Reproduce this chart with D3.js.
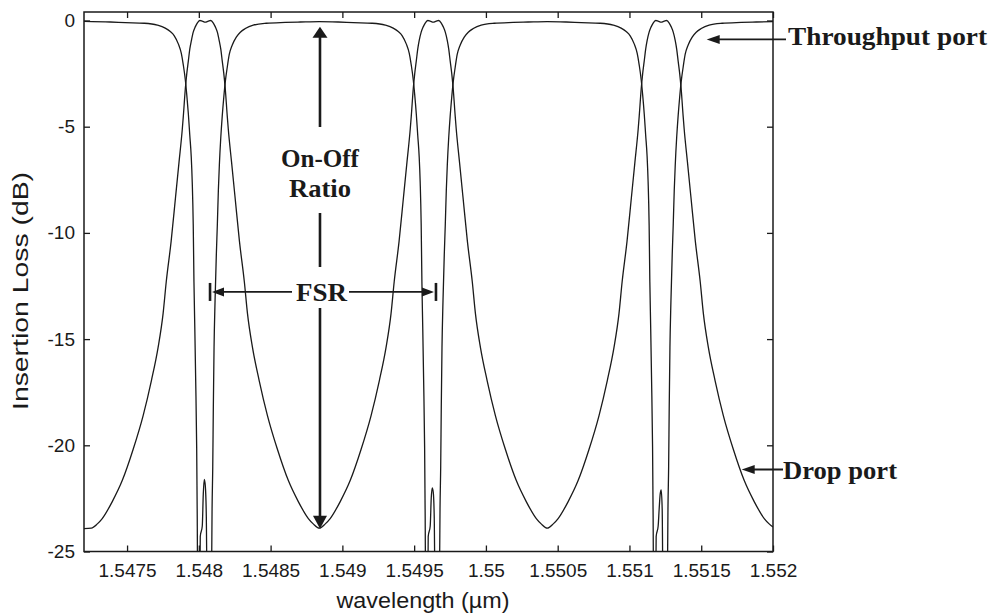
<!DOCTYPE html>
<html>
<head>
<meta charset="utf-8">
<script src="https://cdn.jsdelivr.net/npm/d3@7"></script>
<style>
  html, body { margin: 0; padding: 0; background: #ffffff; }
  svg { display: block; }
</style>
</head>
<body>
<svg id="chart" width="995" height="616"></svg>
<script>
// ---- Axis ticks -------------------------------------------------------
const xTickValues = [1.5475, 1.548, 1.5485, 1.549, 1.5495, 1.55, 1.5505, 1.551, 1.5515, 1.552];
const xTickLabels = ["1.5475", "1.548", "1.5485", "1.549", "1.5495", "1.55", "1.5505", "1.551", "1.5515", "1.552"];
const yTickValues = [0, -5, -10, -15, -20, -25];
const yTickLabels = ["0", "-5", "-10", "-15", "-20", "-25"];

// ---- Drop port transmission: [wavelength (um), insertion loss (dB)] ---
const dropPort = [
  [1.5472, -23.92], [1.547251, -23.9], [1.547293, -23.7], [1.547327, -23.45], [1.547397, -22.65],
  [1.547467, -21.65], [1.547542, -20.2], [1.547612, -18.6], [1.54767, -16.94], [1.547716, -15.4],
  [1.547751, -13.8], [1.547773, -12.3], [1.547807, -10.4], [1.547838, -8.3], [1.547862, -6.67],
  [1.547885, -5.1], [1.547892, -4.5], [1.547906, -3.2], [1.547916, -2.5], [1.547927, -1.9],
  [1.547937, -1.35], [1.547948, -0.95], [1.547961, -0.55], [1.547975, -0.3], [1.547989, -0.12],
  [1.548007, 0], [1.548024, -0.03], [1.548045, -0.08], [1.548066, -0.03], [1.548083, 0],
  [1.548101, -0.12], [1.548115, -0.3], [1.548129, -0.55], [1.548142, -0.95], [1.548153, -1.35],
  [1.548163, -1.9], [1.548174, -2.5], [1.548184, -3.2], [1.548198, -4.5], [1.548205, -5.1],
  [1.548228, -6.67], [1.548252, -8.3], [1.548283, -10.4], [1.548317, -12.3], [1.548339, -13.8],
  [1.548374, -15.4], [1.54842, -16.94], [1.548478, -18.6], [1.548548, -20.2], [1.548623, -21.65],
  [1.548693, -22.65], [1.548763, -23.45], [1.548797, -23.7], [1.548839, -23.9],
  [1.548881, -23.7], [1.548915, -23.45], [1.548985, -22.65], [1.549055, -21.65], [1.54913, -20.2],
  [1.5492, -18.6], [1.549258, -16.94], [1.549304, -15.4], [1.549339, -13.8], [1.549361, -12.3],
  [1.549395, -10.4], [1.549426, -8.3], [1.54945, -6.67], [1.549473, -5.1], [1.54948, -4.5],
  [1.549494, -3.2], [1.549504, -2.5], [1.549515, -1.9], [1.549525, -1.35], [1.549535, -0.95],
  [1.549549, -0.55], [1.549563, -0.3], [1.549577, -0.12], [1.549595, 0], [1.549612, -0.03],
  [1.549633, -0.08], [1.549654, -0.03], [1.549671, 0], [1.549689, -0.12], [1.549703, -0.3],
  [1.549717, -0.55], [1.549731, -0.95], [1.549741, -1.35], [1.549751, -1.9], [1.549762, -2.5],
  [1.549772, -3.2], [1.549786, -4.5], [1.549793, -5.1], [1.549816, -6.67], [1.54984, -8.3],
  [1.549871, -10.4], [1.549905, -12.3], [1.549927, -13.8], [1.549962, -15.4], [1.550008, -16.94],
  [1.550066, -18.6], [1.550136, -20.2], [1.550211, -21.65], [1.550281, -22.65], [1.550351, -23.45],
  [1.550385, -23.7], [1.550427, -23.9],
  [1.550469, -23.7], [1.550503, -23.45], [1.550573, -22.65], [1.550643, -21.65], [1.550718, -20.2],
  [1.550788, -18.6], [1.550846, -16.94], [1.550892, -15.4], [1.550927, -13.8], [1.550949, -12.3],
  [1.550983, -10.4], [1.551014, -8.3], [1.551038, -6.67], [1.551061, -5.1], [1.551068, -4.5],
  [1.551082, -3.2], [1.551092, -2.5], [1.551103, -1.9], [1.551113, -1.35], [1.551123, -0.95],
  [1.551137, -0.55], [1.551151, -0.3], [1.551165, -0.12], [1.551183, 0], [1.5512, -0.03],
  [1.551221, -0.08], [1.551242, -0.03], [1.551259, 0], [1.551277, -0.12], [1.551291, -0.3],
  [1.551305, -0.55], [1.551319, -0.95], [1.551329, -1.35], [1.551339, -1.9], [1.55135, -2.5],
  [1.55136, -3.2], [1.551374, -4.5], [1.551381, -5.1], [1.551404, -6.67], [1.551428, -8.3],
  [1.551459, -10.4], [1.551493, -12.3], [1.551515, -13.8], [1.55155, -15.4], [1.551596, -16.94],
  [1.551654, -18.6], [1.551724, -20.2], [1.551799, -21.65], [1.551869, -22.65], [1.551939, -23.45],
  [1.551973, -23.7], [1.552, -23.85]
];

// ---- Throughput port transmission: [wavelength (um), insertion loss (dB)] ---
const throughputPort = [
  [1.5472, -0.04], [1.547383, -0.07], [1.547488, -0.1], [1.54762, -0.13], [1.547711, -0.22],
  [1.547766, -0.36], [1.547801, -0.52], [1.547829, -0.72], [1.547857, -1.1], [1.547878, -1.55],
  [1.547892, -2.1], [1.547906, -2.8], [1.547916, -3.5], [1.547927, -4.4], [1.547937, -5.4],
  [1.547947, -6.4], [1.547954, -7.6], [1.547961, -9.6], [1.547966, -12.3], [1.547972, -14.5],
  [1.547978, -16.9], [1.547985, -20.1], [1.547989, -23.5], [1.547992, -27], [1.548007, -27],
  [1.54801, -24.3], [1.548024, -23.8], [1.548031, -22.3], [1.548038, -21.6], [1.548045, -21.9],
  [1.548052, -23.3], [1.548058, -27], [1.548088, -27], [1.54809, -25], [1.548092, -23.2],
  [1.548097, -21], [1.548101, -18.2], [1.548106, -15.4], [1.548113, -13.2], [1.548122, -11],
  [1.548129, -9.6], [1.548136, -8], [1.548143, -6.8], [1.548153, -5.5], [1.548163, -4.5],
  [1.548174, -3.6], [1.548184, -2.9], [1.548198, -2.2], [1.548212, -1.6], [1.548233, -1.15],
  [1.548261, -0.78], [1.548289, -0.55], [1.548324, -0.38], [1.548379, -0.22], [1.54847, -0.13],
  [1.548602, -0.09], [1.548707, -0.07], [1.548839, -0.05],
  [1.548971, -0.07], [1.549076, -0.1], [1.549208, -0.13], [1.549299, -0.22], [1.549354, -0.36],
  [1.549389, -0.52], [1.549417, -0.72], [1.549445, -1.1], [1.549466, -1.55], [1.54948, -2.1],
  [1.549494, -2.8], [1.549504, -3.5], [1.549515, -4.4], [1.549525, -5.4], [1.549535, -6.4],
  [1.549542, -7.6], [1.549549, -9.6], [1.549554, -12.3], [1.54956, -14.5], [1.549566, -16.9],
  [1.549573, -20.1], [1.549577, -23.5], [1.54958, -27], [1.549595, -27], [1.549598, -24.3],
  [1.549612, -23.8], [1.549619, -22.5], [1.549626, -22.0], [1.549633, -22.2], [1.54964, -23.4],
  [1.549646, -27], [1.549676, -27], [1.549678, -25], [1.54968, -23.2], [1.549685, -21],
  [1.549689, -18.2], [1.549694, -15.4], [1.549701, -13.2], [1.54971, -11], [1.549717, -9.6],
  [1.549724, -8], [1.549731, -6.8], [1.549741, -5.5], [1.549751, -4.5], [1.549762, -3.6],
  [1.549772, -2.9], [1.549786, -2.2], [1.5498, -1.6], [1.549821, -1.15], [1.549849, -0.78],
  [1.549877, -0.55], [1.549912, -0.38], [1.549967, -0.22], [1.550058, -0.13], [1.55019, -0.09],
  [1.550295, -0.07], [1.550427, -0.05],
  [1.550559, -0.07], [1.550664, -0.1], [1.550796, -0.13], [1.550887, -0.22], [1.550942, -0.36],
  [1.550977, -0.52], [1.551005, -0.72], [1.551033, -1.1], [1.551054, -1.55], [1.551068, -2.1],
  [1.551082, -2.8], [1.551092, -3.5], [1.551103, -4.4], [1.551113, -5.4], [1.551123, -6.4],
  [1.55113, -7.6], [1.551137, -9.6], [1.551142, -12.3], [1.551148, -14.5], [1.551154, -16.9],
  [1.551161, -20.1], [1.551165, -23.5], [1.551168, -27], [1.551183, -27], [1.551186, -24.3],
  [1.5512, -23.8], [1.551207, -23.0], [1.551214, -22.3], [1.551221, -22.1], [1.551228, -23.0],
  [1.551234, -27], [1.551264, -27], [1.551266, -25], [1.551268, -23.2], [1.551273, -21],
  [1.551277, -18.2], [1.551282, -15.4], [1.551289, -13.2], [1.551298, -11], [1.551305, -9.6],
  [1.551312, -8], [1.551319, -6.8], [1.551329, -5.5], [1.551339, -4.5], [1.55135, -3.6],
  [1.55136, -2.9], [1.551374, -2.2], [1.551388, -1.6], [1.551409, -1.15], [1.551437, -0.78],
  [1.551465, -0.55], [1.5515, -0.38], [1.551555, -0.22], [1.551646, -0.13], [1.551778, -0.09],
  [1.551883, -0.07], [1.552, -0.05]
];

// ---- Annotation anchors (data units) ----------------------------------
const onOffArrow = { wavelength: 1.548844, top: -0.29, bottom: -23.93 };
const fsrBar = { from: 1.548078, to: 1.549652, level: -12.78 };
const throughputPointer = { wavelength: 1.551538, level: -0.89, label: "Throughput port" };
const dropPointer = { wavelength: 1.551782, level: -21.14, label: "Drop port" };

// ---- Layout -----------------------------------------------------------
const W = 995, H = 616;
const plot = { left: 84, top: 12, right: 773, bottom: 551.5 };
const ink = "#1a1a1a";
const sansFont = "'Liberation Sans', Arial, Helvetica, sans-serif";
const serifFont = "'Liberation Serif', 'Times New Roman', serif";

const svg = d3.select("#chart");
svg.append("rect").attr("width", W).attr("height", H).attr("fill", "#ffffff");

const x = d3.scaleLinear().domain([1.5472, 1.552]).range([plot.left, plot.right]);
const y = d3.scaleLinear().domain([-25, 0.4]).range([plot.bottom, plot.top]);

svg.append("defs").append("clipPath").attr("id", "plot-clip")
  .append("rect")
  .attr("x", plot.left).attr("y", plot.top)
  .attr("width", plot.right - plot.left).attr("height", plot.bottom - plot.top);

// ---- Curves -----------------------------------------------------------
const line = d3.line()
  .x(d => x(d[0]))
  .y(d => y(d[1]))
  .curve(d3.curveMonotoneX);

const curves = svg.append("g").attr("clip-path", "url(#plot-clip)");
[dropPort, throughputPort].forEach(series => {
  curves.append("path")
    .datum(series)
    .attr("d", line)
    .attr("fill", "none")
    .attr("stroke", ink)
    .attr("stroke-width", 1.3)
    .attr("stroke-linejoin", "round");
});

// ---- Axes (boxed, ticks pointing inward) ------------------------------
const tickLen = 6;
const fontTick = 19;

const xAxisBottom = d3.axisBottom(x)
  .tickValues(xTickValues)
  .tickFormat((d, i) => xTickLabels[i])
  .tickSizeInner(-tickLen).tickSizeOuter(0).tickPadding(12);
const xAxisTop = d3.axisTop(x)
  .tickValues(xTickValues).tickFormat("")
  .tickSizeInner(-tickLen).tickSizeOuter(0);
const yAxisLeft = d3.axisLeft(y)
  .tickValues(yTickValues)
  .tickFormat((d, i) => yTickLabels[i])
  .tickSizeInner(-tickLen).tickSizeOuter(0).tickPadding(9);
const yAxisRight = d3.axisRight(y)
  .tickValues(yTickValues).tickFormat("")
  .tickSizeInner(-tickLen).tickSizeOuter(0);

function styleAxis(g) {
  g.select(".domain").remove();
  g.selectAll(".tick line").attr("stroke", ink).attr("stroke-width", 1.3);
  g.selectAll(".tick text")
    .attr("fill", ink)
    .style("font-family", sansFont)
    .style("font-size", fontTick + "px");
}

svg.append("g").attr("transform", `translate(0,${plot.bottom})`).call(xAxisBottom).call(styleAxis);
svg.append("g").attr("transform", `translate(0,${plot.top})`).call(xAxisTop).call(styleAxis);
svg.append("g").attr("transform", `translate(${plot.left},0)`).call(yAxisLeft).call(styleAxis);
svg.append("g").attr("transform", `translate(${plot.right},0)`).call(yAxisRight).call(styleAxis);

svg.append("rect")
  .attr("x", plot.left).attr("y", plot.top)
  .attr("width", plot.right - plot.left).attr("height", plot.bottom - plot.top)
  .attr("fill", "none").attr("stroke", ink).attr("stroke-width", 1.5);

// ---- Axis titles ------------------------------------------------------
svg.append("text")
  .attr("x", 423)
  .attr("y", 608)
  .attr("text-anchor", "middle")
  .attr("fill", ink)
  .style("font-family", sansFont)
  .style("font-size", "22px")
  .attr("textLength", 173)
  .attr("lengthAdjust", "spacingAndGlyphs")
  .text("wavelength (\u00b5m)");

svg.append("text")
  .attr("transform", `translate(28,291) rotate(-90)`)
  .attr("text-anchor", "middle")
  .attr("fill", ink)
  .style("font-family", sansFont)
  .style("font-size", "22px")
  .attr("textLength", 238)
  .attr("lengthAdjust", "spacingAndGlyphs")
  .text("Insertion Loss (dB)");

// ---- Annotations ------------------------------------------------------
const annot = svg.append("g");
const annFont = 25;

function arrowHead(tipX, tipY, dir, len, half) {
  // dir: unit vector pointing from base to tip
  const bx = tipX - dir[0] * len, by = tipY - dir[1] * len;
  const px = -dir[1] * half, py = dir[0] * half;
  annot.append("path")
    .attr("d", `M${tipX},${tipY}L${bx + px},${by + py}L${bx - px},${by - py}Z`)
    .attr("fill", ink);
}
function seg(x1, y1, x2, y2, w) {
  annot.append("line")
    .attr("x1", x1).attr("y1", y1).attr("x2", x2).attr("y2", y2)
    .attr("stroke", ink).attr("stroke-width", w || 2);
}
function label(tx, ty, str, anchor, width) {
  const t = annot.append("text")
    .attr("x", tx).attr("y", ty)
    .attr("text-anchor", anchor || "start")
    .attr("fill", ink)
    .style("font-family", serifFont)
    .style("font-weight", "bold")
    .style("font-size", annFont + "px")
    .text(str);
  if (width) t.attr("textLength", width).attr("lengthAdjust", "spacingAndGlyphs");
  return t;
}

// On-Off ratio double arrow
const ax = x(onOffArrow.wavelength);
const aTop = y(onOffArrow.top), aBot = y(onOffArrow.bottom);
arrowHead(ax, aTop, [0, -1], 11, 7.5);
arrowHead(ax, aBot, [0, 1], 13, 7);
seg(ax, aTop + 8, ax, 127, 2.6);
seg(ax, 213, ax, 267, 2.6);
seg(ax, 308, ax, aBot - 10, 2.6);
label(ax, 167, "On-Off", "middle", 78);
label(ax, 197, "Ratio", "middle", 62);

// FSR span marker
const f0 = x(fsrBar.from), f1 = x(fsrBar.to), fy = y(fsrBar.level);
seg(f0, fy - 9, f0, fy + 9, 2.6);
seg(f1, fy - 9, f1, fy + 9, 2.6);
arrowHead(f0 + 2, fy, [-1, 0], 12, 4.5);
arrowHead(f1 - 2, fy, [1, 0], 12, 4.5);
seg(f0 + 8, fy, 292, fy, 1.8);
seg(349, fy, f1 - 8, fy, 1.8);
label(321.5, fy + 9, "FSR", "middle", 51);

// Port pointers
const tpX = x(throughputPointer.wavelength), tpY = y(throughputPointer.level);
arrowHead(tpX, tpY, [-1, 0], 13, 4.5);
seg(tpX + 8, tpY, 786, tpY, 1.8);
label(788, tpY + 6, throughputPointer.label, "start", 199);

const dpX = x(dropPointer.wavelength), dpY = y(dropPointer.level);
arrowHead(dpX, dpY, [-1, 0], 13, 4.5);
seg(dpX + 8, dpY, 783, dpY, 1.8);
label(783, dpY + 9, dropPointer.label, "start", 114);
</script>
</body>
</html>
